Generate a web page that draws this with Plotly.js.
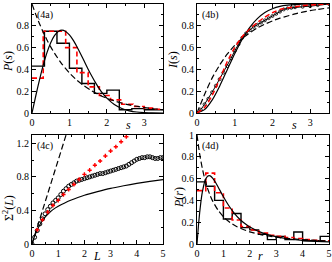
<!DOCTYPE html>
<html><head><meta charset="utf-8">
<script src="https://cdn.plot.ly/plotly-3.0.1.min.js"></script>
<style>html,body{margin:0;padding:0;background:#fff}#c{width:332px;height:262px}</style>
</head><body><div id="c"></div>
<script>
// ---- Panel (4a): spacing distribution P(s)
const aBlackEdges = [0,0.333,0.667,1.0,1.333,1.667,2.0,2.333,2.667,3.0,3.333,3.667];
const aBlackVals  = [0.43,0.75,0.64,0.41,0.27,0.18,0.21,0.03,0.04,0.03,0.03];
const aRedEdges = [0,0.3,0.6,0.9,1.2,1.5,1.8,2.1,2.4,2.7,3.0,3.3,3.6];
const aRedVals  = [0.32,0.75,0.75,0.60,0.37,0.24,0.16,0.12,0.08,0.06,0.045,0.035];
const aWigS = [0,0.1,0.2,0.3,0.4,0.5,0.6,0.7,0.8,0.9,1.0,1.1,1.2,1.3,1.4,1.5,1.6,1.7,1.8,1.9,2.0,2.2,2.4,2.6,2.8,3.0,3.2,3.5];
const aWigP = [0,0.156,0.304,0.439,0.554,0.645,0.710,0.748,0.760,0.748,0.716,0.668,0.608,0.542,0.472,0.402,0.337,0.276,0.222,0.175,0.136,0.077,0.041,0.020,0.009,0.004,0.002,0.0002];
const aPoiS = [0,0.1,0.2,0.3,0.4,0.5,0.6,0.8,1.0,1.2,1.4,1.6,1.8,2.0,2.25,2.5,2.75,3.0,3.25,3.5];
const aPoiP = [1,0.905,0.819,0.741,0.670,0.607,0.549,0.449,0.368,0.301,0.247,0.202,0.165,0.135,0.105,0.082,0.064,0.050,0.039,0.030];

// ---- Panel (4b): cumulative I(s)
const bS = [0,0.2,0.4,0.6,0.8,1.0,1.2,1.4,1.6,1.8,2.0,2.2,2.4,2.6,2.8,3.0,3.2,3.5];
const bGOE = [0,0.031,0.118,0.246,0.395,0.544,0.677,0.786,0.866,0.922,0.957,0.978,0.989,0.995,0.998,0.999,1.0,1.0];
const bPoi = [0,0.17,0.32,0.44,0.54,0.62,0.685,0.735,0.78,0.815,0.845,0.87,0.89,0.91,0.925,0.94,0.95,0.965];
const bRed = [0,0.05,0.16,0.31,0.47,0.60,0.70,0.77,0.83,0.88,0.92,0.95,0.965,0.975,0.985,0.99,0.995,1.0];
const bCircS = [0,0.1,0.2,0.3,0.4,0.5,0.6,0.7,0.8,0.9,1.0,1.1,1.2,1.3,1.4,1.5,1.6,1.7,1.8,1.9,2.0,2.1,2.2,2.3,2.4,2.5,2.6,2.8,3.0,3.2,3.5];
const bCirc = [0,0.03,0.08,0.13,0.19,0.25,0.31,0.37,0.43,0.50,0.57,0.63,0.69,0.73,0.76,0.79,0.81,0.83,0.85,0.87,0.89,0.91,0.93,0.95,0.96,0.965,0.97,0.975,0.98,0.99,1.0];

// ---- Panel (4c): number variance Sigma^2(L)
const cPoiL = [0,1.3];
const cPoiV = [0,1.3];
const cGOEL = [0,0.1,0.2,0.3,0.4,0.5,0.6,0.7,0.8,1.0,1.25,1.5,1.75,2.0,2.5,3.0,3.5,4.0,4.5,5.0];
const cGOEV = [0,0.095,0.17,0.23,0.28,0.32,0.355,0.385,0.41,0.45,0.49,0.525,0.555,0.582,0.625,0.664,0.695,0.723,0.747,0.768];
const cCircL = [0,0.1,0.2,0.3,0.4,0.5,0.6,0.7,0.8,0.9,1.0,1.1,1.2,1.3,1.4,1.5,1.6,1.7,1.8,1.9,2.0,2.1,2.2,2.3,2.4,2.5,2.6,2.7,2.8,2.9,3.0,3.1,3.2,3.3,3.4,3.5,3.6,3.7,3.8,3.9,4.0,4.1,4.2,4.3,4.4,4.5,4.6,4.7,4.8,4.9,5.0];
const cCircV = [0,0.08,0.16,0.24,0.30,0.36,0.41,0.45,0.49,0.52,0.55,0.59,0.63,0.66,0.69,0.71,0.73,0.75,0.76,0.77,0.78,0.79,0.80,0.81,0.82,0.83,0.84,0.84,0.85,0.86,0.87,0.88,0.89,0.90,0.91,0.92,0.93,0.95,0.97,0.99,1.01,1.02,1.03,1.03,1.04,1.04,1.03,1.02,1.02,1.03,1.03];
const cRedL = [0.2,0.4,0.6,0.8,1.0,1.2,1.4,1.6,1.8,2.0,2.2,2.4,2.6,2.8,3.0,3.2,3.4,3.6];
const cRedV = [0.17,0.29,0.38,0.46,0.52,0.59,0.65,0.71,0.77,0.83,0.88,0.94,0.99,1.05,1.11,1.16,1.22,1.28];

// ---- Panel (4d): ratio distribution P(r)
const dEdges = [0,0.333,0.667,1.0,1.333,1.667,2.0,2.333,2.667,3.0,3.333,3.667,4.0,4.333,4.667,5.0];
const dBlackVals = [0.57,0.53,0.40,0.23,0.28,0.15,0.13,0.09,0.04,0.07,0.04,0.11,0.03,0.03,0.07];
const dRedVals   = [0.49,0.65,0.47,0.33,0.22,0.16,0.13,0.10,0.08,0.07,0.06,0.05,0.04,0.035,0.03];
const dGOER = [0,0.05,0.1,0.15,0.2,0.3,0.4,0.5,0.6,0.7,0.8,1.0,1.2,1.4,1.6,1.8,2.0,2.5,3.0,3.5,4.0,4.5,5.0];
const dGOEP = [0,0.156,0.286,0.391,0.473,0.578,0.622,0.625,0.602,0.566,0.523,0.433,0.353,0.286,0.232,0.190,0.156,0.100,0.067,0.046,0.033,0.025,0.019];
const dPoiR = [0,0.1,0.2,0.3,0.4,0.5,0.6,0.8,1.0,1.25,1.5,2.0,2.5,3.0,3.5,4.0,4.5,5.0];
const dPoiP = [1,0.826,0.694,0.592,0.510,0.444,0.391,0.309,0.25,0.198,0.16,0.111,0.082,0.0625,0.049,0.04,0.033,0.028];

// ---- Text
const panelLabels = ['(4a)','(4b)','(4c)','(4d)'];
const xTitles = ['<i>s</i>','<i>s</i>','<i>L</i>','<i>r</i>'];
const yTitles = ['<i>P</i>(<i>s</i>)','<i>I</i>(<i>s</i>)','Σ<sup>2</sup>(<i>L</i>)','<i>P</i>(<i>r</i>)'];

function steps(edges, vals){ return {x: edges, y: vals.concat([vals[vals.length-1]])}; }

const FONT = 'Liberation Serif, Times New Roman, serif';
const RED = '#ff0000';
const traces = [];
function hist(edges, vals, xa, ya, color, dash, w){
  const s = steps(edges, vals);
  traces.push({x:s.x, y:s.y, xaxis:xa, yaxis:ya, mode:'lines', line:{shape:'hv', color:color, width:w, dash:dash}, hoverinfo:'skip'});
}
function line(x, y, xa, ya, color, dash, w){
  traces.push({x:x, y:y, xaxis:xa, yaxis:ya, mode:'lines', line:{shape:'spline', smoothing:0.6, color:color, width:w, dash:dash}, hoverinfo:'skip'});
}

// panel a
hist(aBlackEdges, aBlackVals, 'x', 'y', '#000', 'solid', 1.4);
hist(aRedEdges, aRedVals, 'x', 'y', RED, '5px,3px', 1.6);
line(aWigS, aWigP, 'x', 'y', '#000', 'solid', 1.2);
line(aPoiS, aPoiP, 'x', 'y', '#000', '6px,3px', 1.2);
// panel b
line(bS, bGOE, 'x2', 'y2', '#000', 'solid', 1.2);
line(bS, bPoi, 'x2', 'y2', '#000', '6px,3px', 1.2);
traces.push({x:bCircS, y:bCirc, xaxis:'x2', yaxis:'y2', mode:'lines+markers', line:{color:'#000', width:1}, marker:{symbol:'circle-open', size:3, color:'#000', line:{width:0.8}}, hoverinfo:'skip'});
line(bS, bRed, 'x2', 'y2', RED, '5px,3px', 1.5);
// panel c
line(cPoiL, cPoiV, 'x3', 'y3', '#000', '6px,3px', 1.2);
line(cGOEL, cGOEV, 'x3', 'y3', '#000', 'solid', 1.2);
traces.push({x:cCircL, y:cCircV, xaxis:'x3', yaxis:'y3', mode:'markers', marker:{symbol:'circle-open', size:4, color:'#000', line:{width:1}}, hoverinfo:'skip'});
traces.push({x:cRedL, y:cRedV, xaxis:'x3', yaxis:'y3', mode:'markers', marker:{symbol:'cross', size:3.5, color:RED, line:{width:0}}, hoverinfo:'skip'});
// panel d
hist(dEdges, dBlackVals, 'x4', 'y4', '#000', 'solid', 1.4);
hist(dEdges, dRedVals, 'x4', 'y4', RED, '5px,3px', 1.6);
line(dGOER, dGOEP, 'x4', 'y4', '#000', 'solid', 1.2);
line(dPoiR, dPoiP, 'x4', 'y4', '#000', '6px,3px', 1.2);

function ax(domain, range, dtick, minor, anchor){
  return {domain:domain, range:range, dtick:dtick, tick0:0, ticks:'inside', ticklen:4, tickwidth:1, tickcolor:'#000',
    mirror:'allticks', showline:true, linecolor:'#000', linewidth:1, showgrid:false, zeroline:false,
    minor:{dtick:minor, ticks:'inside', ticklen:2, tickwidth:1, tickcolor:'#000'},
    tickfont:{family:FONT, size:10, color:'#000'}, anchor:anchor, automargin:false};
}
const XL = [32/332, 163/332], XR = [197/332, 329/332];
const YT = [1-113/262, 1-4/262], YB = [1-244/262, 1-135/262];

// text anchor positions in pixels
const xTitlePos = [[128,125],[294,125],[97,256],[260,256]];
const yTitlePos = [[8,62],[173,60],[8,208],[179,198]];
const ann = [];
const refs = [['x','y'],['x2','y2'],['x3','y3'],['x4','y4']];
for (let i=0;i<4;i++){
  ann.push({xref:refs[i][0]+' domain', yref:refs[i][1]+' domain', x:0.02, y:0.97, xanchor:'left', yanchor:'top',
     text:panelLabels[i], showarrow:false, font:{family:FONT, size:10, color:'#000'}});
  ann.push({xref:'paper', yref:'paper', x:xTitlePos[i][0]/332, y:1-xTitlePos[i][1]/262, xanchor:'center', yanchor:'middle',
     text:xTitles[i], showarrow:false, font:{family:FONT, size:12, color:'#000'}});
  ann.push({xref:'paper', yref:'paper', x:yTitlePos[i][0]/332, y:1-yTitlePos[i][1]/262, xanchor:'center', yanchor:'middle',
     text:yTitles[i], textangle:-90, showarrow:false, font:{family:FONT, size:12, color:'#000'}});
}

const layout = {
  width:332, height:262, margin:{l:0,r:0,t:0,b:0}, showlegend:false,
  paper_bgcolor:'#fff', plot_bgcolor:'#fff',
  xaxis: ax(XL, [0,3.5], 1, 0.5, 'y'),
  yaxis: ax(YT, [0,1], 0.2, 0.1, 'x'),
  xaxis2: ax(XR, [0,3.5], 1, 0.5, 'y2'),
  yaxis2: ax(YT, [0,1], 0.2, 0.1, 'x2'),
  xaxis3: ax(XL, [0,5], 1, 0.5, 'y3'),
  yaxis3: ax(YB, [0,1.3], 0.4, 0.2, 'x3'),
  xaxis4: ax(XR, [0,5], 1, 0.5, 'y4'),
  yaxis4: ax(YB, [0,1], 0.2, 0.1, 'x4'),
  annotations: ann
};
Plotly.newPlot('c', traces, layout, {staticPlot:true, displayModeBar:false});
</script></body></html>
